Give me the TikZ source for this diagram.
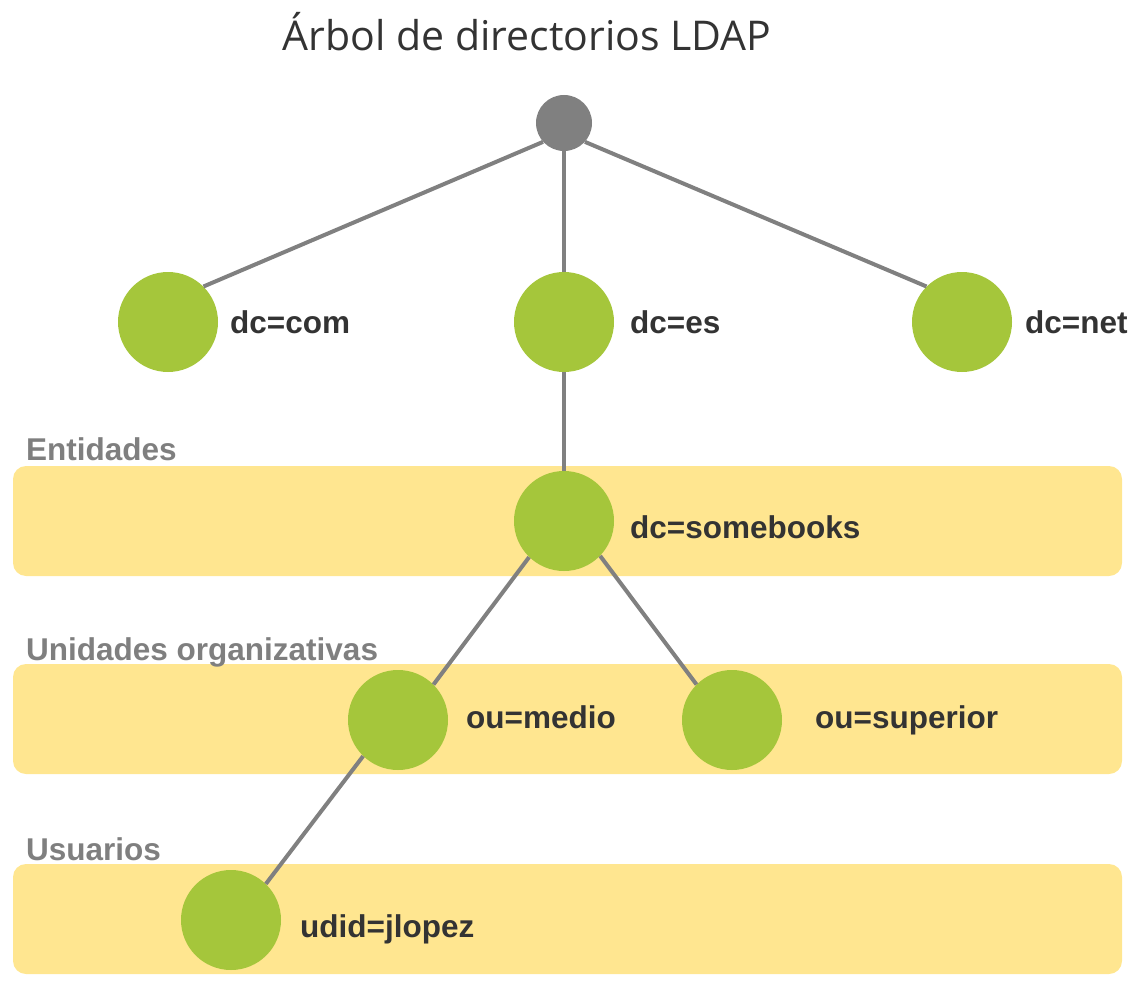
\documentclass[tikz,border=0pt]{standalone}
\usepackage{fontspec}
\setmainfont{Liberation Sans}
\newfontfamily\titlefont{Open Sans}
\definecolor{leaf}{HTML}{A5C63B}
\definecolor{band}{HTML}{FFE690}
\definecolor{edgegray}{HTML}{808080}
\definecolor{labeltext}{HTML}{333333}
\definecolor{cattext}{HTML}{7F7F7F}
\tikzset{
  leafnode/.style={circle, fill=leaf, minimum size=100pt, inner sep=0pt},
  rootnode/.style={circle, fill=edgegray, minimum size=56pt, inner sep=0pt},
  edge/.style={draw=edgegray, line width=4pt},
  lbl/.style={anchor=base west, text=labeltext, font=\fontsize{31.5}{36}\selectfont\bfseries, inner sep=0pt},
  cat/.style={anchor=base west, text=cattext, font=\fontsize{31.5}{36}\selectfont\bfseries, inner sep=0pt},
  bandbox/.style={fill=band, rounded corners=13pt}
}
\begin{document}
\begin{tikzpicture}[x=1pt,y=-1pt]
\useasboundingbox (0,0) rectangle (1137,992);
% bands
\path[bandbox] (13,466) rectangle (1122,576);
\path[bandbox] (13,664) rectangle (1122,774);
\path[bandbox] (13,864) rectangle (1122,974);
% category labels
\node[cat] (ent) at (26,460) {Entidades};
\node[cat] (uni) at (26,660) {Unidades organizativas};
\node[cat] (usu) at (26,860) {Usuarios};
% title
\node[text=labeltext, font=\titlefont\fontsize{41}{47}\selectfont, anchor=base, inner sep=0pt] (title) at (527,51) {Árbol de directorios LDAP};
% nodes
\node[leafnode] (com) at (168,322) {};
\node[leafnode] (es) at (564,322) {};
\node[leafnode] (net) at (962,322) {};
\node[leafnode] (sb) at (564,521) {};
\node[leafnode] (med) at (398,720) {};
\node[leafnode] (sup) at (732,720) {};
\node[leafnode] (jl) at (231,920) {};
\node[rootnode] (root) at (564,123) {};
% connectors
\draw[edge] (root.222) -- (com.45);
\draw[edge] (root.south) -- (es.north);
\draw[edge] (root.318) -- (net.135);
\draw[edge] (es.south) -- (sb.north);
\draw[edge] (sb.226) -- (med.45);
\draw[edge] (sb.316) -- (sup.135);
\draw[edge] (med.226) -- (jl.46);
% labels
\node[lbl] (comL) at (230,333) {dc=com};
\node[lbl] (esL) at (630,333) {dc=es};
\node[lbl] (netL) at (1025,333) {dc=net};
\node[lbl] (sbL) at (630,538) {dc=somebooks};
\node[lbl] (medL) at (466,728) {ou=medio};
\node[lbl] (supL) at (815,728) {ou=superior};
\node[lbl] (jlL) at (300,937) {udid=jlopez};
\end{tikzpicture}
\end{document}
